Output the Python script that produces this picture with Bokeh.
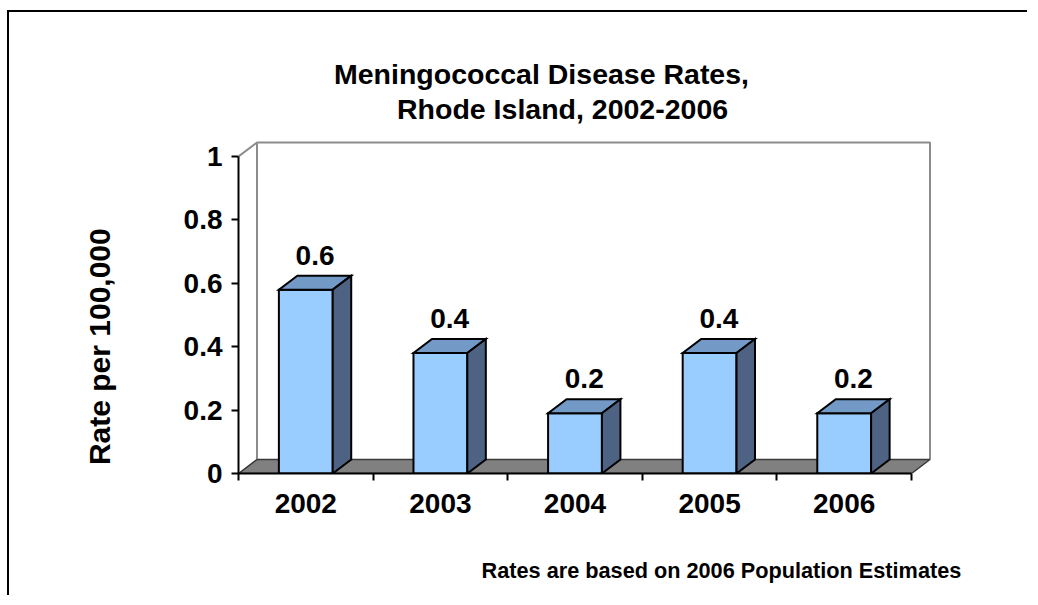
from bokeh.plotting import figure
from bokeh.models import Range1d, FixedTicker, NumeralTickFormatter, LinearAxis, ColumnDataSource
from bokeh.core.properties import value
from bokeh.embed import file_html
from bokeh.resources import INLINE

# ---- data ----
categories = ["2002", "2003", "2004", "2005", "2006"]
rates = [0.58, 0.38, 0.19, 0.38, 0.19]
y_ticks = [0, 0.2, 0.4, 0.6, 0.8, 1.0]
title_lines = ["Meningococcal Disease Rates,", "Rhode Island,  2002-2006"]
y_label = "Rate per 100,000"
note = "Rates are based on 2006 Population Estimates"

# ---- styling / geometry ----
FONT = "Liberation Sans"
PX_X = 134.6   # pixels per category
PX_Y = 317.0   # pixels per rate unit
DX = 18.5 / PX_X   # 3D depth offset (x)
DY = 14.0 / PX_Y   # 3D depth offset (y)
BAR_W = 0.4
W, H = 1020, 585
BL, BT = 229, 28
FW, FH = 694, 433
n = len(categories)

p = figure(width=W, height=H,
           min_border_left=BL, min_border_right=W - BL - FW,
           min_border_top=BT, min_border_bottom=H - BT - FH,
           x_range=Range1d(0, FW / PX_X), y_range=Range1d(0, FH / PX_Y),
           output_backend="svg", toolbar_location=None, tools="")
p.grid.visible = False
p.outline_line_color = None
p.background_fill_color = "white"
p.border_fill_color = "white"
p.styles = {"border-left": "2px solid black", "border-top": "2px solid black",
            "margin-top": "10px", "margin-left": "7px"}

# back wall + side wall top edge
p.line(x=[0, DX, n + DX, n + DX], y=[1, 1 + DY, 1 + DY, DY],
       line_color="#8c8c8c", line_width=2)
p.line(x=[DX, DX], y=[DY, 1 + DY], line_color="#8c8c8c", line_width=2)

# floor
p.patch(x=[0, n, n + DX, DX], y=[0, 0, DY, DY],
        fill_color="#808080", line_color="#3a3a3a", line_width=1.5)

# bars (front, top, side faces)
fx, fy, tx, ty, sx, sy = [], [], [], [], [], []
for i, v in enumerate(rates):
    l = i + 0.5 - BAR_W / 2
    r = i + 0.5 + BAR_W / 2
    fx.append([l, r, r, l]); fy.append([0, 0, v, v])
    tx.append([l, r, r + DX, l + DX]); ty.append([v, v, v + DY, v + DY])
    sx.append([r, r + DX, r + DX, r]); sy.append([0, DY, v + DY, v])

p.patches(xs=fx, ys=fy, fill_color="#99ccff", line_color="black", line_width=2, line_join="miter")
p.patches(xs=tx, ys=ty, fill_color="#7399c6", line_color="black", line_width=2, line_join="miter")
p.patches(xs=sx, ys=sy, fill_color="#4e6384", line_color="black", line_width=2, line_join="miter")

# value labels
lab_src = ColumnDataSource(dict(
    x=[i + 0.5 + DX / 2 for i in range(n)],
    y=[v + DY for v in rates],
    t=[f"{v:.1f}" for v in rates]))
p.text(x="x", y="y", text="t", source=lab_src, text_align="center", text_baseline="bottom",
       y_offset=-11, text_font=value(FONT), text_font_style="bold", text_font_size="28px",
       text_color="black")

# title (two lines) inside the upper part of the frame
t_src = ColumnDataSource(dict(x=[2.251, 2.437], y=[1.2587, 1.1514], t=title_lines))
p.text(x="x", y="y", text="t", source=t_src, text_align="center", text_baseline="alphabetic",
       text_font=value(FONT), text_font_style="bold", text_font_size="28.5px", text_color="black")

# axes
ya = p.yaxis[0]
ya.ticker = FixedTicker(ticks=y_ticks)
ya.formatter = NumeralTickFormatter(format="0.[0]")
ya.bounds = (0, 1)
ya.axis_line_width = 2
ya.major_tick_line_width = 2
ya.major_tick_out = 7
ya.major_tick_in = 0
ya.minor_tick_line_color = None
ya.major_label_standoff = 9
ya.major_label_text_font = FONT
ya.major_label_text_font_style = "bold"
ya.major_label_text_font_size = "28px"
ya.major_label_text_color = "black"

# y-axis title as a secondary left axis with a single labelled tick
y_mid = 0.40
yl = LinearAxis(ticker=FixedTicker(ticks=[y_mid]), major_label_overrides={y_mid: y_label},
                axis_line_color=None, major_tick_line_color=None, minor_tick_line_color=None,
                major_tick_out=0, major_tick_in=0, major_label_orientation="vertical",
                major_label_standoff=64, major_label_text_font=FONT,
                major_label_text_font_style="bold", major_label_text_font_size="30px",
                major_label_text_color="black")
p.add_layout(yl, "left")

xa = p.xaxis[0]
xa.ticker = FixedTicker(ticks=[i + 0.5 for i in range(n)], minor_ticks=list(range(n + 1)))
xa.major_label_overrides = {i + 0.5: c for i, c in enumerate(categories)}
xa.bounds = (0, n)
xa.axis_line_width = 2
xa.major_tick_line_color = None
xa.major_tick_out = 0
xa.major_tick_in = 0
xa.minor_tick_line_width = 2
xa.minor_tick_line_color = "black"
xa.minor_tick_out = 7
xa.minor_tick_in = 0
xa.major_label_standoff = 13
xa.major_label_text_font = FONT
xa.major_label_text_font_style = "bold"
xa.major_label_text_font_size = "28px"
xa.major_label_text_color = "black"

# footnote as a secondary bottom axis with a single labelled tick
x_note = 3.588
xn = LinearAxis(ticker=FixedTicker(ticks=[x_note]), major_label_overrides={x_note: note},
                axis_line_color=None, major_tick_line_color=None, minor_tick_line_color=None,
                major_tick_out=0, major_tick_in=0, major_label_standoff=42,
                major_label_text_font=FONT, major_label_text_font_style="bold",
                major_label_text_font_size="21.7px", major_label_text_color="black")
p.add_layout(xn, "below")

open("out.html", "w").write(file_html(p, INLINE))
